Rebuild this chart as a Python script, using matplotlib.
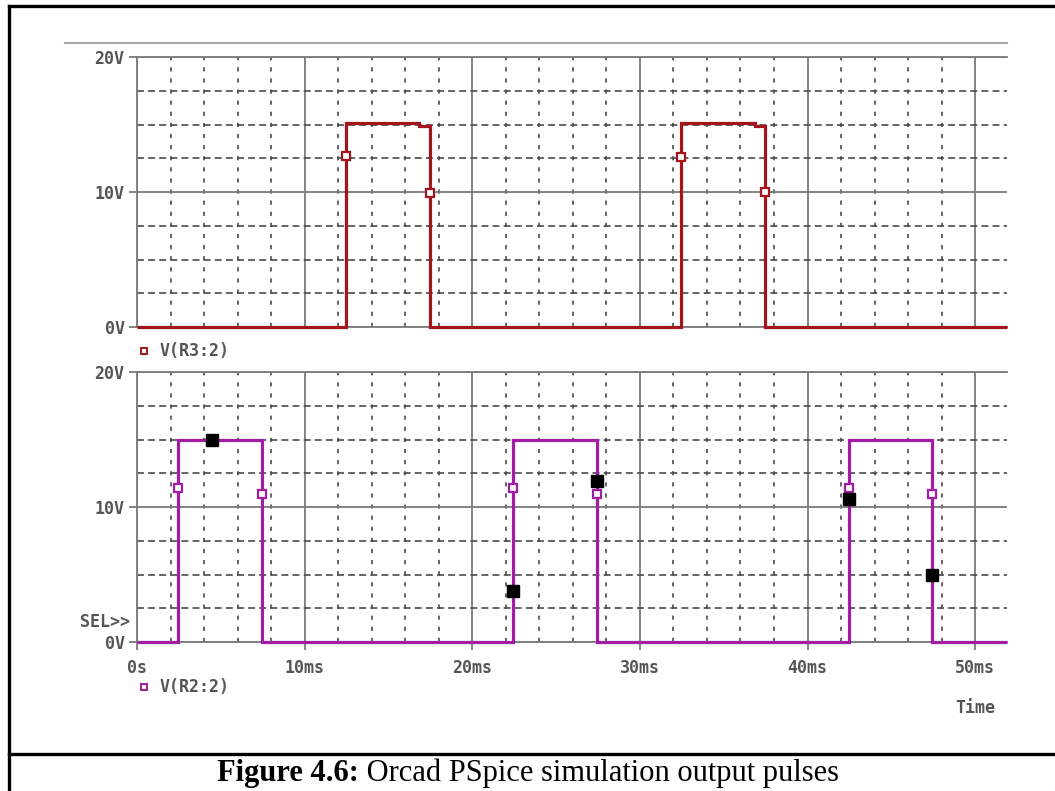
import matplotlib
matplotlib.use("Agg")
import matplotlib.pyplot as plt
from matplotlib.lines import Line2D
from matplotlib.ticker import MultipleLocator

plt.rcParams["lines.scale_dashes"] = False

# ---- waveform data (time in ms, voltage in V) ----
r3_time = [0, 12.45, 12.45, 16.85, 16.85, 17.45, 17.45,
           32.45, 32.45, 36.85, 36.85, 37.45, 37.45, 51.9]
r3_volt = [0, 0, 15.1, 15.1, 14.9, 14.9, 0,
           0, 15.1, 15.1, 14.9, 14.9, 0, 0]

r2_time = [0, 2.45, 2.45, 7.45, 7.45, 22.45, 22.45, 27.45, 27.45,
           42.45, 42.45, 47.45, 47.45, 51.9]
r2_volt = [0, 0, 15.0, 15.0, 0, 0, 15.0, 15.0, 0,
           0, 15.0, 15.0, 0, 0]

# trace symbols
r3_mark_t = [12.45, 17.45, 32.45, 37.45]
r3_mark_v = [12.7, 9.9, 12.6, 10.0]
r2_mark_t = [2.45, 7.45, 22.45, 27.45, 42.45, 47.45]
r2_mark_v = [11.4, 11.0, 11.4, 11.0, 11.4, 11.0]
cursor_t = [4.47, 22.45, 27.45, 42.45, 47.45]
cursor_v = [15.0, 3.8, 11.9, 10.6, 5.0]

y_ticks = [0, 10, 20]
y_labels = ["0V", "10V", "20V"]
x_ticks = [0, 10, 20, 30, 40, 50]
x_labels = ["0s", "10ms", "20ms", "30ms", "40ms", "50ms"]

RED = "#a3151a"
PURPLE = "#a21ca6"
GRID = "#7a7a7a"
DASH = "#4a4a4a"
TXT = "#555555"
MONO = "DejaVu Sans Mono"

W, H = 1055, 791
fig = plt.figure(figsize=(W / 100, H / 100), dpi=100)
fig.patch.set_facecolor("white")


def fx(px):
    return px / W


def fy(py):
    return 1 - py / H


def make_axes(top_px, show_x):
    ax = fig.add_axes([fx(137), fy(top_px + 270), fx(870), 270 / H])
    ax.set_xlim(0, 51.9)
    ax.set_ylim(0, 20)
    ax.set_yticks(y_ticks)
    ax.set_yticklabels(y_labels)
    ax.yaxis.set_minor_locator(MultipleLocator(2.5))
    ax.set_xticks(x_ticks)
    ax.xaxis.set_minor_locator(MultipleLocator(2))
    ax.grid(which="major", color=GRID, lw=1.3, ls="-")
    ax.xaxis.grid(which="minor", color=DASH, lw=1.2, ls=(0, (3, 5)))
    ax.yaxis.grid(which="minor", color=DASH, lw=1.2, ls=(0, (5, 3)))
    ax.set_axisbelow(True)
    for s in ("left", "top", "bottom"):
        ax.spines[s].set_color(GRID)
        ax.spines[s].set_linewidth(1.3)
    ax.spines["right"].set_visible(False)
    ax.tick_params(axis="y", which="major", direction="out", length=6,
                   width=1.3, color=GRID, pad=3, labelcolor=TXT,
                   labelsize=12)
    ax.tick_params(which="minor", length=0)
    if show_x:
        ax.set_xticklabels(x_labels)
        ax.tick_params(axis="x", which="major", direction="out", length=6,
                       width=1.3, color=GRID, pad=6, labelcolor=TXT,
                       labelsize=12)
    else:
        ax.tick_params(axis="x", which="major", length=0,
                       labelbottom=False)
    for lab in ax.get_yticklabels() + ax.get_xticklabels():
        lab.set_fontfamily(MONO)
        lab.set_fontweight("bold")
    return ax


ax1 = make_axes(57, False)
ax2 = make_axes(372, True)

ax1.plot(r3_time, r3_volt, color=RED, lw=2.3, zorder=3,
         solid_joinstyle="miter", solid_capstyle="butt", clip_on=False)
ax1.plot(r3_mark_t, r3_mark_v, ls="none", marker="s", ms=6,
         mfc="white", mec=RED, mew=1.6, zorder=4)

ax2.plot(r2_time, r2_volt, color=PURPLE, lw=2.3, zorder=3,
         solid_joinstyle="miter", solid_capstyle="butt", clip_on=False)
ax2.plot(r2_mark_t, r2_mark_v, ls="none", marker="s", ms=6,
         mfc="white", mec=PURPLE, mew=1.6, zorder=4)
ax2.plot(cursor_t, cursor_v, ls="none", marker="s", ms=8,
         mfc="black", mec="black", zorder=5)

# trace legends
fig.add_artist(Line2D([fx(144)], [fy(351)], ls="none", marker="s", ms=5,
                      mfc="white", mec=RED, mew=1.4))
fig.text(fx(160), fy(351), "V(R3:2)", ha="left", va="center",
         family=MONO, fontweight="bold", fontsize=12, color=TXT)
fig.add_artist(Line2D([fx(144)], [fy(687)], ls="none", marker="s", ms=5,
                      mfc="white", mec=PURPLE, mew=1.4))
fig.text(fx(160), fy(687), "V(R2:2)", ha="left", va="center",
         family=MONO, fontweight="bold", fontsize=12, color=TXT)

fig.text(fx(130), fy(622), "SEL>>", ha="right", va="center",
         family=MONO, fontweight="bold", fontsize=12, color=TXT)
fig.text(fx(955), fy(708), "Time", ha="left", va="center",
         family=MONO, fontweight="bold", fontsize=12, color=TXT)

# window line above the plots
fig.add_artist(Line2D([fx(65), fx(1007)], [fy(43), fy(43)],
                      color="#a8a8a8", lw=1.5))

# figure frame and caption box
fig.add_artist(Line2D([fx(9), fx(9)], [fy(6), 0], color="black", lw=2.4))
fig.add_artist(Line2D([fx(9), 1], [fy(6), fy(6)], color="black", lw=2.4))
fig.add_artist(Line2D([fx(9), 1], [fy(754), fy(754)], color="black",
                      lw=2.4))

cap_y = fy(773)
bold = fig.text(0, cap_y, "Figure 4.6:", ha="left", va="center",
                family="Liberation Serif", fontweight="bold", fontsize=22)
rest = fig.text(0, cap_y, " Orcad PSpice simulation output pulses",
                ha="left", va="center", family="Liberation Serif",
                fontsize=22)
fig.canvas.draw()
r = fig.canvas.get_renderer()
wb = bold.get_window_extent(r).width
wr = rest.get_window_extent(r).width
x0 = (528 - (wb + wr) / 2)
bold.set_x(x0 / W)
rest.set_x((x0 + wb) / W)

fig.savefig("out.png", dpi=100, facecolor="white")
